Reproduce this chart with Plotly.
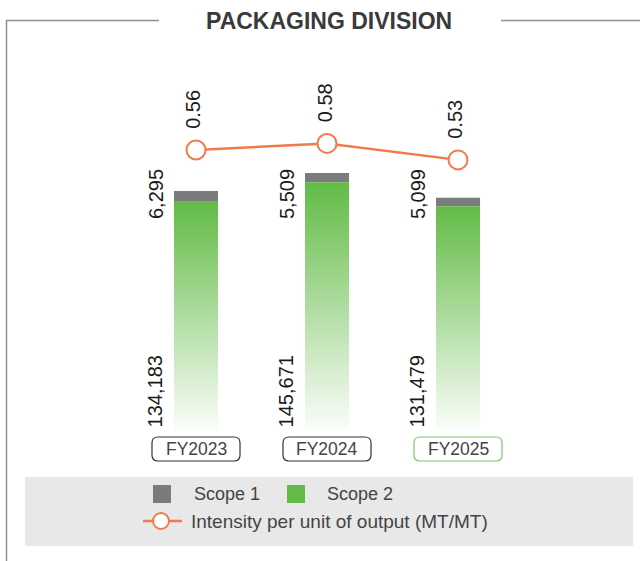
import plotly.graph_objects as go

# ---- data -------------------------------------------------------------
years = ["FY2023", "FY2024", "FY2025"]
scope1 = [6295, 5509, 5099]          # tCO2e, stacked on top
scope2 = [134183, 145671, 131479]    # tCO2e, base of each bar
intensity = [0.56, 0.58, 0.53]       # MT/MT, secondary axis

# ---- style ------------------------------------------------------------
W, H = 640, 561
GREEN = "#62bb46"
GRAY = "#7b7b7d"
ORANGE = "#f37a48"
INK = "#1a1a1a"
TXT = "#444444"
FRAME = "#8f8f8f"
FONT = "Liberation Sans, Arial, sans-serif"
BAR_W = 0.336

xs = list(range(len(years)))


def px(x):
    return x / W


def py(y):
    return 1 - y / H


fig = go.Figure()

# Scope 2: gradient-filled columns (solid green at the top, fading out at the base)
for i, v in zip(xs, scope2):
    fig.add_trace(go.Scatter(
        x=[i - BAR_W / 2, i + BAR_W / 2, i + BAR_W / 2, i - BAR_W / 2, i - BAR_W / 2],
        y=[0, 0, v, v, 0],
        mode="none", fill="toself",
        fillgradient=dict(type="vertical", start=0, stop=v,
                          colorscale=[[0, "#fafdf9"], [1, GREEN]]),
        name="Scope 2", showlegend=False, hoverinfo="skip",
    ))

# Scope 1 stacked on top of Scope 2
fig.add_trace(go.Bar(
    x=xs, y=scope1, base=scope2, width=BAR_W,
    marker=dict(color=GRAY, line=dict(width=0)),
    name="Scope 1", showlegend=False,
))

# Intensity line on the secondary axis
fig.add_trace(go.Scatter(
    x=xs, y=intensity, yaxis="y2", mode="lines+markers",
    line=dict(color=ORANGE, width=2.5),
    marker=dict(size=19, color="white", line=dict(color=ORANGE, width=2)),
    name="Intensity per unit of output (MT/MT)", showlegend=False,
))

ann = []
shapes = []

# value labels
for i in xs:
    ann.append(dict(x=i - 0.02, y=intensity[i], xref="x", yref="y2",
                    text=f"{intensity[i]:.2f}", textangle=-90, showarrow=False,
                    xanchor="center", yanchor="bottom", yshift=19,
                    font=dict(family=FONT, size=20, color=INK)))
    ann.append(dict(x=i - 0.305, y=py(167), xref="x", yref="paper",
                    text=f"{scope1[i]:,}", textangle=-90, showarrow=False,
                    xanchor="center", yanchor="top",
                    font=dict(family=FONT, size=20, color=INK)))
    ann.append(dict(x=i - 0.31, y=0, xref="x", yref="y",
                    text=f"{scope2[i]:,}", textangle=-90, showarrow=False,
                    xanchor="center", yanchor="bottom",
                    font=dict(family=FONT, size=20, color=INK)))


def rrect(x0, x1, y0, y1, rx, ry):
    return (f"M{x0 + rx},{y0} L{x1 - rx},{y0} Q{x1},{y0} {x1},{y0 + ry} "
            f"L{x1},{y1 - ry} Q{x1},{y1} {x1 - rx},{y1} L{x0 + rx},{y1} "
            f"Q{x0},{y1} {x0},{y1 - ry} L{x0},{y0 + ry} Q{x0},{y0} {x0 + rx},{y0} Z")


# category pills under the bars
for i, name in enumerate(years):
    border = "#7cc96a" if i == len(years) - 1 else "#333333"
    shapes.append(dict(type="path", xref="x", yref="paper",
                       path=rrect(i - 0.336, i + 0.336, py(461), py(437), 6 / 131, 6 / H),
                       line=dict(color=border, width=1.2), fillcolor="white"))
    ann.append(dict(x=i, y=py(449), xref="x", yref="paper", text=name,
                    showarrow=False, xanchor="center", yanchor="middle",
                    font=dict(family=FONT, size=17.5, color=TXT)))

# frame and title
shapes += [
    dict(type="line", xref="paper", yref="paper", x0=px(6.5), x1=px(6.5), y0=py(20.5), y1=0,
         line=dict(color=FRAME, width=1.5)),
    dict(type="line", xref="paper", yref="paper", x0=px(6), x1=px(159), y0=py(20.5), y1=py(20.5),
         line=dict(color=FRAME, width=1.5)),
    dict(type="line", xref="paper", yref="paper", x0=px(501), x1=1, y0=py(20.5), y1=py(20.5),
         line=dict(color=FRAME, width=1.5)),
]
ann.append(dict(x=px(329), y=py(21), xref="paper", yref="paper",
                text="<b>PACKAGING DIVISION</b>", showarrow=False,
                xanchor="center", yanchor="middle",
                font=dict(family=FONT, size=23, color="#3a3a3a")))

# legend panel
shapes.append(dict(type="rect", xref="paper", yref="paper", x0=px(25), x1=px(633),
                   y0=py(546), y1=py(477), fillcolor="#e8e8e8", line=dict(width=0), layer="below"))
shapes.append(dict(type="rect", xref="paper", yref="paper", x0=px(153), x1=px(171),
                   y0=py(503), y1=py(485), fillcolor=GRAY, line=dict(width=0)))
shapes.append(dict(type="rect", xref="paper", yref="paper", x0=px(287), x1=px(305),
                   y0=py(503), y1=py(485), fillcolor=GREEN, line=dict(width=0)))
shapes.append(dict(type="line", xref="paper", yref="paper", x0=px(143), x1=px(182),
                   y0=py(521), y1=py(521), line=dict(color=ORANGE, width=2.5)))
shapes.append(dict(type="circle", xref="paper", yref="paper", x0=px(153), x1=px(169),
                   y0=py(529), y1=py(513), fillcolor="white", line=dict(color=ORANGE, width=2)))
for xl, yl, t, fs in [(192, 494, "Scope 1", 18), (325, 494, "Scope 2", 18),
                      (189, 521, "Intensity per unit of output (MT/MT)", 19)]:
    ann.append(dict(x=px(xl), y=py(yl), xref="paper", yref="paper", text=t,
                    showarrow=False, xanchor="left", yanchor="middle",
                    font=dict(family=FONT, size=fs, color=TXT)))

fig.update_layout(
    width=W, height=H, margin=dict(l=0, r=0, t=0, b=0),
    paper_bgcolor="white", plot_bgcolor="white",
    showlegend=False, barmode="overlay",
    xaxis=dict(range=[-1.496, 3.389], visible=False, fixedrange=True),
    yaxis=dict(range=[-77920, 253240], visible=False, fixedrange=True),
    yaxis2=dict(range=[-0.6855, 1.0145], overlaying="y", visible=False, fixedrange=True),
    annotations=ann, shapes=shapes,
)

fig.write_html("out.html")
